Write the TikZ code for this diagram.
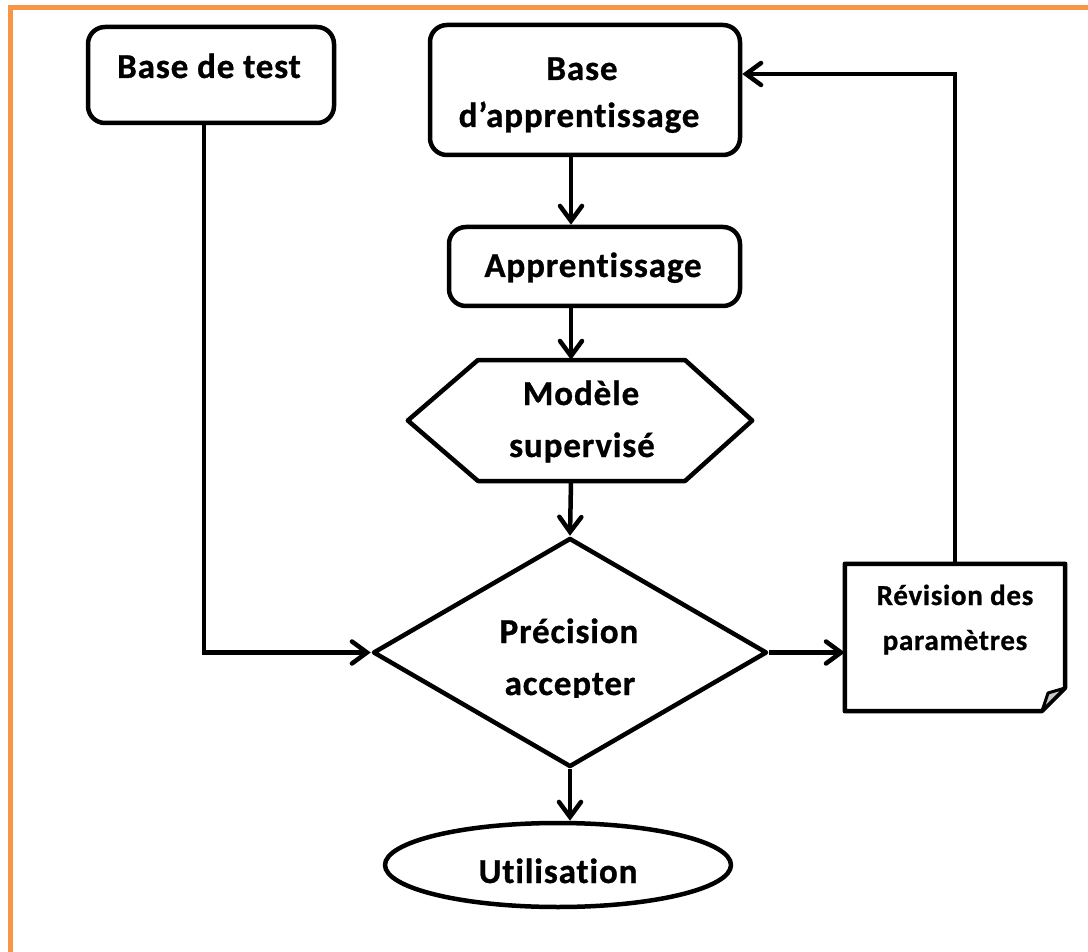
\documentclass[tikz,border=0pt]{standalone}
\usepackage{fontspec}
\setmainfont{Carlito}[Ligatures=NoCommon,LetterSpace=2.5,BoldFeatures={FakeBold=0.8}]
\usetikzlibrary{arrows.meta,shapes.geometric}
\definecolor{frameorange}{HTML}{F79646}
\definecolor{foldgray}{HTML}{C8C8C8}
\begin{document}
\begin{tikzpicture}[x=1pt,y=-1pt,
  outline/.style={draw=black,line width=4.5pt,line join=round},
  roundbox/.style={outline,rectangle,rounded corners=17pt,inner sep=0pt},
  frame/.style={draw=none,rectangle,inner sep=0pt},
  flow/.style={line width=4.5pt,line join=miter,-{Straight Barb[length=15pt,width=22pt,line cap=round]}},
  lbl/.style={anchor=base,inner sep=0pt,font=\bfseries\fontsize{35}{40}\selectfont},
  smalllbl/.style={anchor=base,inner sep=0pt,font=\bfseries\fontsize{29}{32}\selectfont}]
\useasboundingbox (0,0) rectangle (1088,952);
\fill[white] (0,0) rectangle (1088,952);

% page frame
\draw[frameorange,line width=5.5pt] (10.5,952) -- (10.5,7.5) -- (1088,7.5);

% shapes
\node[roundbox,minimum width=246pt,minimum height=96pt] (test) at (211,75) {};
\node[roundbox,minimum width=310pt,minimum height=130pt] (bapp) at (585,90) {};
\node[roundbox,minimum width=291pt,minimum height=79pt] (appr) at (594.5,266.5) {};
\node[frame,minimum width=344pt,minimum height=121pt] (hex) at (580,420.5) {};
\draw[outline] (hex.west) -- (478,360) -- (685,360) -- (hex.east) -- (685,481) -- (478,481) -- cycle;
\node[outline,diamond,inner sep=0pt,minimum width=394pt,minimum height=229pt] (dia) at (570,652.5) {};
\node[frame,minimum width=220pt,minimum height=147pt] (doc) at (955,637.5) {};
\draw[outline] (doc.north west) -- (doc.north east) -- (1065,688) -- (1042,711) -- (doc.south west) -- cycle;
\draw[outline,line width=3pt,fill=foldgray] (1042,711) -- (1048,693) -- (1065,688) -- cycle;
\node[outline,ellipse,inner sep=0pt,minimum width=346pt,minimum height=84pt] (use) at (558,865) {};

% labels
\node[lbl] (t-test) at (209,78) {Base de test};
\node[lbl] (t-bapp1) at (582,80) {Base};
\node[lbl] (t-bapp2) at (579,127) {d’apprentissage};
\node[lbl] (t-appr) at (593,277) {Apprentissage};
\node[lbl] (t-hex1) at (581,405) {Modèle};
\node[lbl] (t-hex2) at (582,457) {supervisé};
\node[lbl] (t-dia1) at (569,643) {Précision};
\begin{scope}
  \clip (440,650) rectangle (700,697);
  \node[lbl] (t-dia2) at (570,695) {accepter};
\end{scope}
\node[smalllbl] (t-doc1) at (955,605) {Révision des};
\node[smalllbl] (t-doc2) at (955,650) {paramètres};
\node[lbl] (t-use) at (558,883) {Utilisation};

% connectors
\coordinate (xc) at (571,0);
\coordinate (xt) at (204,0);
\draw[flow] (bapp.south -| xc) -- (appr.north -| xc);
\draw[flow] (appr.south -| xc) -- (hex.north -| xc);
\draw[flow] (hex.south -| xc) -- (dia.north);
\draw[flow] (test.south -| xt) |- (dia.west);
\draw[flow] (dia.east) -- (dia.east -| doc.west);
\draw[flow] (doc.north) |- ([yshift=16pt]bapp.east);
\draw[flow] (dia.south) -- (dia.south |- use.north);
\end{tikzpicture}
\end{document}
